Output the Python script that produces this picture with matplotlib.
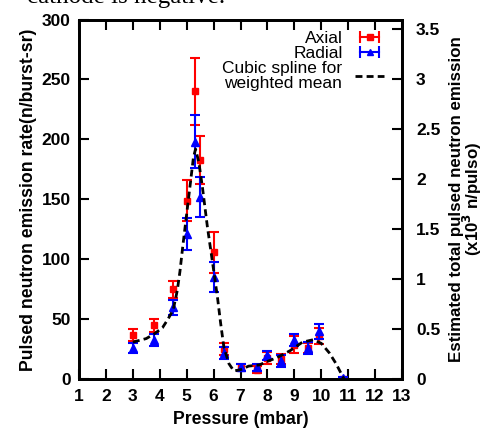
"""
Pulsed neutron emission vs pressure (axial / radial detectors + spline of weighted mean).
"""

import matplotlib
matplotlib.use("Agg")
import matplotlib.pyplot as plt
from matplotlib.lines import Line2D
from matplotlib.legend_handler import HandlerLine2D, HandlerTuple

plt.rcParams["font.family"] = ["Liberation Sans", "DejaVu Sans"]

# --- data ------------------------------------------------------------------
pressure = [3.0, 3.8, 4.5, 5.0, 5.3, 5.5, 6.0, 6.4, 7.0, 7.6, 8.0, 8.5, 9.0, 9.5, 9.9, 10.8]

axial = [37, 45, 75, 149, 240, 183, 106, 25, 10, 8, 18, 17, 29, 26, 36, 0]
axial_err = [5, 5.5, 7, 17, 28, 20, 17, 5, 3, 3, 5, 4, 7, 4, 6.5, 1]

radial = [26, 33, 60, 121, 198, 152, 85, 22, 10, 10, 20, 15, 33, 26, 40, 1]
radial_err = [4, 5, 6.5, 13.5, 22, 17, 12.5, 5, 3, 3, 4, 5, 5, 5, 6.5, 1]

spline_x = [3.0, 3.5, 3.8, 4.1, 4.3, 4.5, 4.65, 4.75, 4.85, 5.0, 5.15, 5.25, 5.33,
            5.45, 5.58, 5.77, 5.95, 6.14, 6.26, 6.38, 6.57, 6.75, 7.0, 7.3, 7.7,
            8.0, 8.35, 8.85, 9.3, 9.7, 10.0, 10.3, 10.55, 10.85]
spline_y = [31, 34, 38, 43, 50, 58, 74, 90, 110, 138, 166, 185, 192,
            181, 161, 127, 99, 69, 47, 27, 13, 7, 8, 11, 12,
            15, 18, 24, 31, 33, 30, 22, 13, 0]

x_ticks = list(range(1, 14))
y_ticks = [0, 50, 100, 150, 200, 250, 300]
y2_ticks = [0, 0.5, 1, 1.5, 2, 2.5, 3, 3.5]

RED = "#ff0000"
BLUE = "#0000ff"

fig = plt.figure(figsize=(4.86, 4.34), dpi=100)
ax = fig.add_axes([0.1626, 0.126, 0.6646, 0.829])

ax.errorbar(pressure, axial, yerr=axial_err, fmt="s", color=RED, ms=5,
            elinewidth=1.5, capsize=3.3, capthick=1.5, zorder=3)
ax.errorbar(pressure, radial, yerr=radial_err, fmt="^", color=BLUE, ms=5.5,
            elinewidth=1.5, capsize=3.3, capthick=1.5, zorder=4)
ax.plot(spline_x, spline_y, color="black", lw=2, linestyle=(0, (2.5, 1.5)), zorder=5)

ax.set_xlim(1, 13)
ax.set_ylim(0, 300)
ax.set_xticks(x_ticks)
ax.set_yticks(y_ticks)
ax.tick_params(axis="x", direction="in", length=7, width=1.5, top=True,
               labelsize=12.5, pad=7)
ax.tick_params(axis="y", direction="in", length=7, width=1.5, right=False,
               labelsize=12.5, pad=6)
for lab in ax.get_xticklabels() + ax.get_yticklabels():
    lab.set_fontweight("bold")
for s in ax.spines.values():
    s.set_linewidth(2)

ax.set_xlabel("Pressure (mbar)", fontsize=12.7, fontweight="bold", labelpad=5)
ax.set_ylabel("Pulsed neutron emission rate(n/burst-sr)", fontsize=12.7,
              fontweight="bold", labelpad=3)

ax2 = ax.twinx()
ax2.set_ylim(0, 3.598)
ax2.set_yticks(y2_ticks)
ax2.set_yticklabels(["0", "0.5", "1", "1.5", "2", "2.5", "3", "3.5"])
ax2.tick_params(axis="y", direction="in", length=7, width=1.5, labelsize=12.5, pad=10)
for lab in ax2.get_yticklabels():
    lab.set_fontweight("bold")
for s in ax2.spines.values():
    s.set_linewidth(2)
ax2.set_ylabel("Estimated total pulsed neutron emission\n(x10$^\\mathbf{3}$ n/pulso)",
               fontsize=12.2, fontweight="bold", labelpad=6, linespacing=0.85)

# gnuplot-style legend keys: horizontal line with end caps and a centre marker
def key(color, marker, ms):
    caps = Line2D([], [], color=color, lw=1.5, marker="|", ms=8, mew=1.5)
    mid = Line2D([], [], color=color, lw=0, marker=marker, ms=ms)
    return caps, mid

caps_a, mid_a = key(RED, "s", 4.5)
caps_r, mid_r = key(BLUE, "^", 5)
spl = Line2D([], [], color="black", lw=2, linestyle=(0, (2.5, 1.5)))

hmap = {caps_a: HandlerLine2D(numpoints=2), caps_r: HandlerLine2D(numpoints=2),
        mid_a: HandlerLine2D(numpoints=1), mid_r: HandlerLine2D(numpoints=1),
        tuple: HandlerTuple(ndivide=1, pad=0)}
leg = ax.legend([(caps_a, mid_a), (caps_r, mid_r), spl],
                ["Axial", "Radial", "Cubic spline for\nweighted mean"],
                handler_map=hmap, loc="upper right", bbox_to_anchor=(0.98, 1.0),
                markerfirst=False, frameon=False, fontsize=12.5, handlelength=1.7,
                handletextpad=0.7, labelspacing=0.0, borderpad=0.15)
for t in leg.get_texts():
    t.set_multialignment("center")
    t.set_linespacing(0.95)

# clipped line of the surrounding page text
fig.text(225 / 486, 1 - 2.5 / 434, "cathode is negative.", ha="right", va="baseline",
         family=["Liberation Serif", "DejaVu Serif"], fontsize=18)

fig.savefig("out.png", dpi=100)
